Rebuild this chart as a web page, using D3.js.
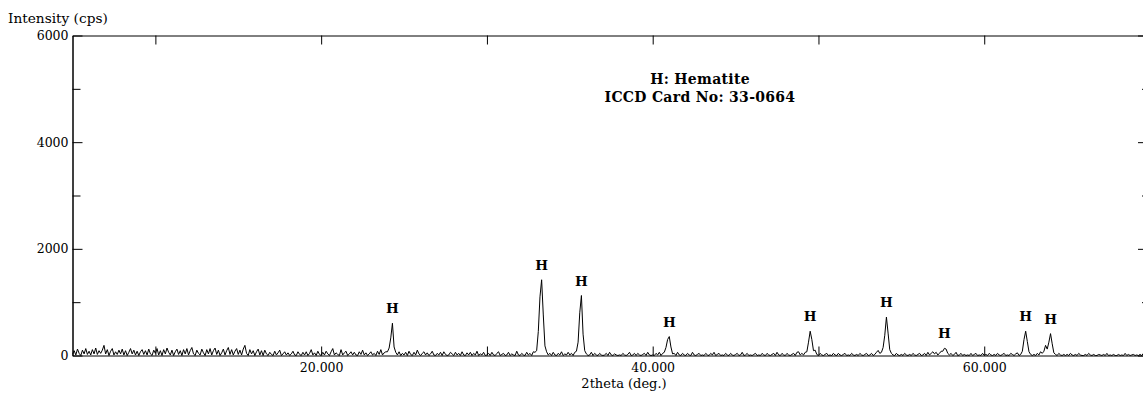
<!DOCTYPE html>
<html>
<head>
<meta charset="utf-8">
<script src="https://cdnjs.cloudflare.com/ajax/libs/d3/7.8.5/d3.min.js"></script>
<style>
  body { margin: 0; background: #ffffff; overflow: hidden; }
</style>
</head>
<body>
<div id="xrd"></div>
<script>
// scan settings (deg 2theta)
var scanStart = 5;
var scanStep = 0.1;

// intensity in cps, one value per 0.1 deg from 5.0 to 70.0
var counts = [
    20, 90, 10, 120, 40, 0, 100, 30, 130, 20,
    80, 10, 110, 30, 140, 20, 90, 40, 100, 190,
    30, 110, 0, 80, 130, 10, 70, 20, 100, 30,
    120, 10, 90, 0, 60, 130, 30, 100, 10, 80,
    0, 70, 110, 20, 90, 10, 120, 30, 0, 100,
    40, 130, 10, 90, 0, 110, 30, 140, 60, 10,
    100, 0, 70, 120, 20, 90, 0, 110, 30, 130,
    10, 90, 150, 30, 0, 100, 40, 10, 120, 50,
    0, 110, 30, 130, 10, 90, 140, 20, 100, 0,
    50, 120, 10, 90, 150, 20, 110, 10, 80, 130,
    20, 100, 10, 120, 190, 40, 0, 110, 30, 90,
    0, 70, 120, 10, 90, 0, 100, 30, 0, 60,
    20, 0, 80, 10, 50, 100, 0, 30, 70, 10,
    50, 0, 30, 80, 10, 0, 70, 20, 0, 60,
    10, 70, 0, 40, 110, 10, 50, 0, 80, 20,
    0, 60, 10, 80, 30, 0, 70, 130, 10, 50,
    20, 0, 110, 10, 50, 80, 0, 30, 70, 10,
    60, 10, 0, 70, 20, 100, 10, 50, 0, 30,
    70, 10, 40, 0, 80, 20, 110, 10, 50, 70,
    70, 140, 330, 605, 160, 60, 10, 70, 0, 40,
    10, 60, 0, 80, 20, 0, 60, 10, 100, 30,
    0, 40, 70, 10, 50, 0, 30, 80, 10, 0,
    40, 10, 60, 0, 70, 20, 0, 10, 60, 30,
    0, 60, 10, 40, 0, 70, 10, 0, 50, 10,
    60, 0, 40, 10, 80, 0, 30, 10, 60, 0,
    10, 40, 0, 60, 10, 0, 40, 70, 0, 20,
    40, 0, 10, 60, 0, 30, 10, 0, 80, 10,
    0, 40, 10, 0, 60, 10, 40, 0, 70, 60,
    90, 450, 1100, 1420, 760, 180, 70, 10, 40, 0,
    60, 10, 0, 40, 10, 70, 0, 30, 10, 60,
    10, 40, 0, 60, 80, 250, 800, 1125, 400, 90,
    30, 0, 10, 60, 0, 40, 10, 0, 40, 10,
    0, 10, 40, 0, 60, 10, 0, 30, 10, 0,
    10, 0, 40, 10, 0, 20, 60, 0, 10, 40,
    0, 40, 10, 0, 20, 40, 0, 60, 10, 0,
    10, 0, 40, 10, 60, 0, 40, 60, 150, 300,
    355, 160, 30, 40, 0, 60, 10, 0, 40, 10,
    0, 40, 10, 0, 60, 10, 0, 20, 40, 0,
    10, 0, 40, 10, 0, 40, 10, 60, 0, 20,
    40, 0, 10, 0, 40, 10, 0, 40, 10, 0,
    20, 40, 0, 10, 60, 0, 10, 40, 0, 10,
    0, 20, 40, 0, 10, 0, 40, 10, 0, 40,
    10, 0, 20, 40, 0, 60, 10, 0, 40, 10,
    0, 40, 10, 0, 20, 40, 0, 60, 70, 10,
    40, 10, 60, 70, 250, 455, 300, 90, 100, 20,
    0, 40, 10, 0, 20, 40, 0, 10, 0, 40,
    10, 0, 40, 10, 0, 20, 40, 0, 10, 0,
    40, 10, 0, 20, 0, 40, 10, 0, 20, 40,
    0, 10, 40, 0, 20, 60, 95, 40, 60, 150,
    380, 720, 420, 110, 40, 10, 0, 40, 10, 0,
    20, 0, 40, 10, 0, 20, 0, 40, 10, 0,
    20, 40, 0, 10, 40, 0, 60, 10, 40, 70,
    30, 60, 10, 40, 80, 80, 135, 120, 40, 10,
    40, 0, 20, 60, 0, 10, 40, 0, 20, 0,
    10, 0, 40, 0, 20, 40, 0, 10, 0, 40,
    0, 20, 0, 40, 10, 0, 20, 0, 40, 10,
    0, 20, 40, 0, 10, 0, 40, 20, 0, 30,
    50, 0, 20, 80, 300, 455, 260, 70, 20, 0,
    20, 0, 40, 10, 70, 40, 80, 190, 120, 250,
    410, 220, 50, 20, 0, 40, 10, 0, 20, 0,
    20, 0, 40, 10, 0, 20, 0, 40, 10, 0,
    0, 20, 0, 40, 10, 0, 20, 0, 0, 20,
    10, 0, 20, 0, 40, 0, 10, 0, 20, 0,
    0, 20, 0, 10, 0, 40, 0, 20, 0, 10,
    20, 0, 10, 0, 20, 0, 40, 0, 10, 0,
    0
];

// phase marks
var peakLabels = ["H", "H", "H", "H", "H", "H", "H", "H", "H"];
var peakPositions = [24.3, 33.3, 35.7, 41.0, 49.5, 54.1, 57.6, 62.5, 64.0];
var peakHeights = [605, 1420, 1125, 355, 455, 720, 135, 455, 410];

// axes
var yTicks = [0, 2000, 4000, 6000];
var yMinorTicks = [1000, 3000, 5000];
var xTicks = [10, 20, 30, 40, 50, 60];
var xTickLabels = ["", "20.000", "", "40.000", "", "60.000"];

var legendLines = ["H: Hematite", "ICCD Card No: 33-0664"];

var width = 1143, height = 394;
var serif = "'DejaVu Serif', serif";

var svg = d3.select("#xrd")
    .append("svg")
    .attr("width", width)
    .attr("height", height);

var x = d3.scaleLinear()
    .domain([5, 70])
    .range([72.5, 1150]);

var y = d3.scaleLinear()
    .domain([0, 6000])
    .range([355.5, 35.5]);

// left axis, ticks inside
svg.append("g")
    .attr("transform", "translate(72.5,0)")
    .call(d3.axisLeft(y).tickValues(yTicks).tickSize(-10).tickSizeOuter(0).tickPadding(4)
        .tickFormat(d3.format("d")));

svg.append("g")
    .attr("transform", "translate(72.5,0)")
    .call(d3.axisLeft(y).tickValues(yMinorTicks).tickSize(-8).tickSizeOuter(0).tickFormat(""));

// right side ticks (axis line itself sits just outside the window)
svg.append("g")
    .attr("transform", "translate(1150,0)")
    .call(d3.axisRight(y).tickValues(yTicks).tickSize(-12).tickSizeOuter(0).tickFormat(""));

svg.append("g")
    .attr("transform", "translate(1150,0)")
    .call(d3.axisRight(y).tickValues(yMinorTicks).tickSize(-8).tickSizeOuter(0).tickFormat(""));

// bottom axis
svg.append("g")
    .attr("transform", "translate(0,355.5)")
    .call(d3.axisBottom(x).tickValues(xTicks).tickSize(-9).tickSizeOuter(0).tickPadding(8)
        .tickFormat(function (d, i) { return xTickLabels[i]; }));

// top axis
svg.append("g")
    .attr("transform", "translate(0,35.5)")
    .call(d3.axisTop(x).tickValues(xTicks).tickSize(-9).tickSizeOuter(0).tickFormat(""));

svg.selectAll(".domain, .tick line")
    .attr("stroke", "#000")
    .attr("stroke-width", 1);

svg.selectAll(".tick text")
    .attr("fill", "#000")
    .attr("font-family", serif)
    .attr("font-size", "12.5px");

// axis titles
svg.append("text")
    .attr("x", 8)
    .attr("y", 23)
    .attr("font-family", serif)
    .attr("font-size", "13.7px")
    .attr("fill", "#000")
    .text("Intensity (cps)");

svg.append("text")
    .attr("x", 624)
    .attr("y", 388)
    .attr("text-anchor", "middle")
    .attr("font-family", serif)
    .attr("font-size", "13px")
    .attr("fill", "#000")
    .text("2theta (deg.)");

// pattern
var line = d3.line()
    .x(function (d, i) { return x(scanStart + i * scanStep); })
    .y(function (d) { return y(d); });

svg.append("path")
    .datum(counts)
    .attr("d", line)
    .attr("fill", "none")
    .attr("stroke", "#000")
    .attr("stroke-width", 1);

// peak labels
svg.append("g")
    .selectAll("text")
    .data(peakPositions)
    .join("text")
    .attr("x", function (d) { return x(d); })
    .attr("y", function (d, i) { return y(peakHeights[i]) - 10; })
    .attr("text-anchor", "middle")
    .attr("font-family", serif)
    .attr("font-weight", 700)
    .attr("font-size", "13.5px")
    .attr("fill", "#000")
    .text(function (d, i) { return peakLabels[i]; });

// legend
svg.append("g")
    .selectAll("text")
    .data(legendLines)
    .join("text")
    .attr("x", 700)
    .attr("y", function (d, i) { return 84 + i * 18; })
    .attr("text-anchor", "middle")
    .attr("font-family", serif)
    .attr("font-weight", 700)
    .attr("font-size", "14px")
    .attr("letter-spacing", "0.3px")
    .attr("fill", "#000")
    .text(function (d) { return d; });
</script>
</body>
</html>
